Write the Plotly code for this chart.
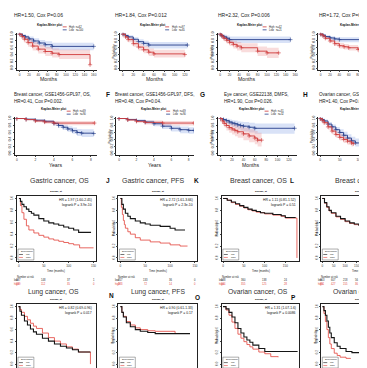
import plotly.graph_objects as go

W, H = 367, 368
def fx(x): return x / W
def fy(y): return 1 - y / H

RED = "#cf3a3a"; BLUE = "#27408b"; KRED = "#e2413a"; BLACK = "#151515"
RED_BAND = "rgba(235,130,130,0.28)"; BLUE_BAND = "rgba(120,150,225,0.28)"
FONT = "Liberation Sans, Arial, sans-serif"

# ---------------- data ----------------
# Row 1 (months): time, survival, upper / lower confidence band
A_LOW_T = [0, 6, 12, 20, 30, 42, 55, 70, 160]
A_LOW_S = [1, 0.96, 0.92, 0.86, 0.80, 0.74, 0.69, 0.64, 0.64]
A_LOW_UP = [1, 0.99, 0.97, 0.93, 0.88, 0.83, 0.79, 0.75, 0.75]
A_LOW_DN = [1, 0.92, 0.86, 0.78, 0.71, 0.64, 0.58, 0.53, 0.53]
A_HIGH_T = [0, 5, 10, 18, 28, 40, 55, 70, 85, 152]
A_HIGH_S = [1, 0.93, 0.85, 0.75, 0.65, 0.56, 0.49, 0.44, 0.40, 0.10]
A_HIGH_UP = [1, 0.99, 0.94, 0.86, 0.77, 0.69, 0.62, 0.58, 0.55, 0.45]
A_HIGH_DN = [1, 0.86, 0.75, 0.63, 0.52, 0.43, 0.36, 0.31, 0.27, 0.02]
B_LOW_T = [0, 5, 10, 20, 30, 40, 50, 125]
B_LOW_S = [1, 0.96, 0.92, 0.85, 0.78, 0.73, 0.68, 0.68]
B_LOW_UP = [1, 0.99, 0.97, 0.91, 0.85, 0.81, 0.77, 0.77]
B_LOW_DN = [1, 0.92, 0.86, 0.78, 0.70, 0.64, 0.58, 0.58]
B_HIGH_T = [0, 5, 10, 20, 30, 40, 50, 60, 120]
B_HIGH_S = [1, 0.92, 0.84, 0.72, 0.62, 0.54, 0.47, 0.42, 0.40]
B_HIGH_UP = [1, 0.97, 0.91, 0.81, 0.72, 0.65, 0.58, 0.54, 0.52]
B_HIGH_DN = [1, 0.86, 0.76, 0.63, 0.52, 0.44, 0.36, 0.31, 0.29]
C_LOW_T = [0, 3, 8, 14, 20, 150]
C_LOW_S = [1, 0.96, 0.92, 0.88, 0.84, 0.84]
C_LOW_UP = [1, 0.99, 0.98, 0.96, 0.93, 0.93]
C_LOW_DN = [1, 0.90, 0.84, 0.79, 0.74, 0.74]
C_HIGH_T = [0, 4, 8, 14, 20, 28, 36, 45, 80, 100, 125]
C_HIGH_S = [1, 0.94, 0.88, 0.82, 0.76, 0.70, 0.65, 0.60, 0.50, 0.45, 0.45]
C_HIGH_UP = [1, 0.99, 0.96, 0.91, 0.86, 0.81, 0.77, 0.73, 0.64, 0.60, 0.60]
C_HIGH_DN = [1, 0.88, 0.79, 0.72, 0.65, 0.58, 0.52, 0.47, 0.36, 0.30, 0.30]
D_LOW_T = [0, 5, 10, 20, 30, 40, 114]
D_LOW_S = [1, 0.97, 0.93, 0.89, 0.86, 0.84, 0.84]
D_LOW_UP = [1, 0.99, 0.97, 0.94, 0.92, 0.91, 0.91]
D_LOW_DN = [1, 0.94, 0.88, 0.83, 0.79, 0.76, 0.76]
D_HIGH_T = [0, 5, 10, 20, 30, 40, 50, 60, 80, 100, 114]
D_HIGH_S = [1, 0.95, 0.88, 0.80, 0.72, 0.66, 0.63, 0.60, 0.55, 0.52, 0.50]
D_HIGH_UP = [1, 0.98, 0.93, 0.86, 0.79, 0.74, 0.71, 0.68, 0.64, 0.62, 0.60]
D_HIGH_DN = [1, 0.92, 0.83, 0.74, 0.65, 0.58, 0.55, 0.52, 0.46, 0.42, 0.40]
# Row 2
E_HIGH_T = [0, 1, 2, 3, 4, 8.4]
E_HIGH_S = [1, 0.97, 0.93, 0.90, 0.87, 0.87]
E_HIGH_UP = [1, 0.99, 0.97, 0.95, 0.93, 0.93]
E_HIGH_DN = [1, 0.94, 0.89, 0.85, 0.81, 0.81]
E_LOW_T = [0, 1, 2, 3, 4, 4.5, 5, 5.5, 6, 6.5, 7, 8.3]
E_LOW_S = [1, 0.98, 0.95, 0.92, 0.86, 0.80, 0.75, 0.70, 0.65, 0.60, 0.58, 0.57]
E_LOW_UP = [1, 1, 0.98, 0.96, 0.91, 0.86, 0.82, 0.78, 0.74, 0.70, 0.69, 0.68]
E_LOW_DN = [1, 0.95, 0.91, 0.87, 0.80, 0.73, 0.67, 0.62, 0.56, 0.50, 0.47, 0.46]
F_HIGH_T = [0, 1, 2, 3, 5, 8.6]
F_HIGH_S = [1, 0.96, 0.92, 0.89, 0.87, 0.87]
F_HIGH_UP = [1, 0.99, 0.96, 0.94, 0.93, 0.93]
F_HIGH_DN = [1, 0.93, 0.87, 0.83, 0.80, 0.80]
F_LOW_T = [0, 1, 2, 3, 4, 5, 6, 7, 8, 8.6]
F_LOW_S = [1, 0.97, 0.94, 0.90, 0.85, 0.78, 0.72, 0.68, 0.66, 0.66]
F_LOW_UP = [1, 0.99, 0.98, 0.95, 0.91, 0.85, 0.80, 0.77, 0.75, 0.75]
F_LOW_DN = [1, 0.94, 0.90, 0.84, 0.78, 0.70, 0.63, 0.58, 0.56, 0.56]
G_LOW_T = [0, 5, 10, 15, 20, 25, 30, 35, 40, 50, 60, 130]
G_LOW_S = [1, 0.97, 0.94, 0.90, 0.87, 0.85, 0.82, 0.80, 0.78, 0.75, 0.72, 0.72]
G_LOW_UP = [1, 1, 0.99, 0.97, 0.95, 0.94, 0.92, 0.91, 0.90, 0.88, 0.86, 0.86]
G_LOW_DN = [1, 0.91, 0.86, 0.80, 0.76, 0.73, 0.69, 0.66, 0.63, 0.60, 0.56, 0.56]
G_HIGH_T = [0, 3, 6, 10, 15, 20, 25, 30, 40, 50, 60, 65, 72]
G_HIGH_S = [1, 0.93, 0.86, 0.80, 0.74, 0.70, 0.66, 0.62, 0.56, 0.50, 0.44, 0.38, 0.38]
G_HIGH_UP = [1, 0.99, 0.96, 0.92, 0.88, 0.85, 0.82, 0.79, 0.74, 0.69, 0.64, 0.59, 0.59]
G_HIGH_DN = [1, 0.85, 0.75, 0.66, 0.59, 0.54, 0.49, 0.45, 0.38, 0.32, 0.26, 0.20, 0.20]
H_LOW_T = [0, 5, 10, 20, 30, 40, 50, 60, 70, 80, 90, 138]
H_LOW_S = [1, 0.97, 0.93, 0.84, 0.76, 0.68, 0.60, 0.52, 0.44, 0.36, 0.30, 0.30]
H_LOW_UP = [1, 0.99, 0.97, 0.90, 0.83, 0.76, 0.69, 0.62, 0.55, 0.48, 0.43, 0.43]
H_LOW_DN = [1, 0.94, 0.88, 0.77, 0.68, 0.59, 0.51, 0.42, 0.34, 0.26, 0.20, 0.20]
H_HIGH_T = [0, 5, 10, 20, 30, 40, 50, 60, 70, 80, 85]
H_HIGH_S = [1, 0.95, 0.88, 0.76, 0.64, 0.54, 0.46, 0.40, 0.35, 0.30, 0.28]
H_HIGH_UP = [1, 0.98, 0.93, 0.83, 0.72, 0.63, 0.56, 0.50, 0.45, 0.41, 0.39]
H_HIGH_DN = [1, 0.91, 0.82, 0.68, 0.55, 0.45, 0.37, 0.30, 0.25, 0.20, 0.18]
# Row 3
I_LOW_T = [0, 3, 6, 10, 15, 20, 25, 30, 40, 50, 60, 70, 80, 90, 100, 110, 120, 145]
I_LOW_S = [1, 0.95, 0.90, 0.86, 0.82, 0.78, 0.75, 0.72, 0.66, 0.62, 0.59, 0.57, 0.55, 0.52, 0.50, 0.47, 0.43, 0.43]
I_HIGH_T = [0, 3, 6, 10, 15, 20, 30, 40, 50, 60, 70, 80, 90, 100, 110, 122, 150]
I_HIGH_S = [1, 0.88, 0.76, 0.65, 0.54, 0.47, 0.42, 0.38, 0.35, 0.32, 0.30, 0.28, 0.26, 0.24, 0.22, 0.17, 0.17]
J_LOW_T = [0, 3, 6, 10, 15, 20, 30, 40, 50, 60, 80, 100, 110, 130]
J_LOW_S = [1, 0.90, 0.82, 0.75, 0.70, 0.66, 0.62, 0.59, 0.57, 0.55, 0.53, 0.50, 0.47, 0.47]
J_HIGH_T = [0, 2, 4, 6, 8, 10, 15, 20, 30, 40, 60, 80, 100, 120, 135]
J_HIGH_S = [1, 0.85, 0.73, 0.63, 0.56, 0.50, 0.44, 0.40, 0.34, 0.30, 0.27, 0.25, 0.22, 0.20, 0.20]
K_LOW_T = [0, 10, 20, 30, 40, 50, 60, 70, 80, 90, 100, 120, 140, 150, 175]
K_LOW_S = [1, 0.97, 0.94, 0.91, 0.88, 0.85, 0.82, 0.80, 0.78, 0.76, 0.75, 0.73, 0.71, 0.68, 0.68]
K_HIGH_T = [0, 10, 20, 30, 40, 50, 60, 70, 80, 90, 100, 120, 140, 150, 178]
K_HIGH_S = [1, 0.97, 0.93, 0.90, 0.87, 0.84, 0.81, 0.79, 0.77, 0.76, 0.74, 0.72, 0.70, 0.67, 0.0]
L_LOW_T = [0, 10, 20, 30, 40, 60, 80, 100, 120, 140, 160, 180, 226]
L_LOW_S = [1, 0.93, 0.86, 0.80, 0.76, 0.70, 0.66, 0.62, 0.59, 0.57, 0.55, 0.54, 0.53]
L_HIGH_T = [0, 10, 20, 30, 40, 60, 80, 100, 120, 140, 160, 180, 226]
L_HIGH_S = [1, 0.92, 0.85, 0.79, 0.75, 0.69, 0.65, 0.61, 0.58, 0.56, 0.55, 0.53, 0.52]
# Row 4
M_LOW_T = [0, 5, 10, 20, 30, 40, 50, 60, 80, 100, 120, 140, 160, 180, 200, 240]
M_LOW_S = [1, 0.92, 0.85, 0.75, 0.68, 0.61, 0.56, 0.52, 0.45, 0.40, 0.35, 0.31, 0.28, 0.25, 0.21, 0.21]
M_HIGH_T = [0, 5, 10, 20, 30, 40, 50, 60, 80, 100, 120, 140, 160, 180, 200, 240]
M_HIGH_S = [1, 0.95, 0.90, 0.83, 0.77, 0.71, 0.66, 0.62, 0.54, 0.46, 0.40, 0.35, 0.30, 0.26, 0.21, 0.0]
N_LOW_T = [0, 3, 6, 12, 20, 30, 40, 55, 70, 140]
N_LOW_S = [1, 0.90, 0.82, 0.72, 0.65, 0.60, 0.57, 0.55, 0.53, 0.53]
N_HIGH_T = [0, 3, 6, 12, 20, 30, 40, 55, 70, 100, 110]
N_HIGH_S = [1, 0.90, 0.83, 0.74, 0.68, 0.63, 0.60, 0.58, 0.57, 0.57, 0.53]
O_LOW_T = [0, 10, 20, 30, 40, 50, 60, 70, 80, 90, 100, 120, 140, 250]
O_LOW_S = [1, 0.96, 0.90, 0.82, 0.72, 0.62, 0.54, 0.47, 0.42, 0.38, 0.33, 0.27, 0.22, 0.22]
O_HIGH_T = [0, 10, 20, 30, 40, 50, 60, 70, 80, 90, 100, 120, 140, 160, 185]
O_HIGH_S = [1, 0.94, 0.85, 0.73, 0.62, 0.52, 0.45, 0.39, 0.34, 0.30, 0.26, 0.21, 0.18, 0.13, 0.12]
P_LOW_T = [0, 5, 10, 15, 20, 25, 30, 40, 50, 60, 80, 100, 150, 180]
P_LOW_S = [1, 0.93, 0.85, 0.75, 0.64, 0.54, 0.46, 0.37, 0.31, 0.27, 0.22, 0.20, 0.18, 0.18]
P_HIGH_T = [0, 5, 10, 15, 20, 25, 30, 40, 50, 60, 80, 95]
P_HIGH_S = [1, 0.88, 0.74, 0.60, 0.46, 0.35, 0.27, 0.19, 0.15, 0.12, 0.10, 0.09]

# text
TOP_TITLES = ["HR=1.50, Cox P=0.06", "HR=1.84, Cox P=0.012", "HR=2.32, Cox P=0.006", "HR=1.72, Cox P=0.003"]
ROW2_L1 = ["Breast cancer, GSE1456-GPL97, OS,", "Breast cancer, GSE1456-GPL97, DFS,", "Eye cancer, GSE22138, DMFS,", "Ovarian cancer, GSE26712, OS,"]
ROW2_L2 = ["HR=0.41, Cox P=0.002.", "HR=0.48, Cox P=0.04.", "HR=1.90, Cox P=0.026.", "HR=1.40, Cox P=0.030."]
ROW12_N = [("62", "100"), ("97", "65"), ("42", "21"), ("148", "80"), ("69", "90"), ("69", "90"), ("31", "32"), ("96", "89")]
ROW3_HEAD = ["Gastric cancer, OS", "Gastric cancer, PFS", "Breast cancer, OS", "Breast cancer, RFS"]
ROW4_HEAD = ["Lung cancer, OS", "Lung cancer, PFS", "Ovarian cancer, OS", "Ovarian cancer, PFS"]
HR3 = [("HR = 1.97 (1.60-2.45)", "logrank P = 3.9e-10"), ("HR = 2.72 (1.61-3.66)", "logrank P = 2.3e-10"),
       ("HR = 1.11 (0.81-1.52)", "logrank P = 0.51"), ("HR = 1.11 (0.93-1.32)", "logrank P = 0.24")]
HR4 = [("HR = 0.82 (0.69-0.96)", "logrank P = 0.017"), ("HR = 0.90 (0.61-1.33)", "logrank P = 0.17"),
       ("HR = 1.31 (1.07-1.6)", "logrank P = 0.0086"), ("HR = 1.30 (1.05-1.6)", "logrank P = 0.016")]
RISK_LOW = [["337", "148", "37", "1"], ["357", "133", "36", "0"], ["538", "360", "138", "24"], ["953", "607", "218", "56", "6"]]
RISK_HIGH = [["539", "112", "35", "0"], ["283", "72", "14", "0"], ["544", "355", "125", "28"], ["811", "427", "155", "36", "5"]]
PROBE = "209080_at"

fig = go.Figure()
lay = {}
ann = []
shapes = []

def sfx(i):
    return "" if i == 1 else str(i)

def add_axes(i, xd, yd, xr, yr, xtv, boxed, fs):
    s = sfx(i)
    common = dict(showgrid=False, zeroline=False, showline=True, linecolor="#222", linewidth=0.6,
                  ticks="outside", ticklen=1.5, tickwidth=0.5, mirror=boxed,
                  tickfont=dict(size=fs, family=FONT, color="#333"), fixedrange=True)
    lay["xaxis" + s] = dict(domain=[fx(xd[0]), fx(xd[1])], range=xr, tickvals=xtv,
                            anchor="y" + s, ticklabelstandoff=0, **common)
    ytv = [0, 0.2, 0.4, 0.6, 0.8, 1.0]
    lay["yaxis" + s] = dict(domain=[fy(yd[1]), fy(yd[0])], range=yr, tickvals=ytv,
                            ticktext=[f"{v:.1f}" for v in ytv], tickangle=-90,
                            anchor="x" + s, **common)

def add_band(i, t, up, dn, fill):
    s = sfx(i)
    fig.add_trace(go.Scatter(x=t, y=dn, mode="lines", line=dict(shape="hv", width=0), xaxis="x" + s,
                             yaxis="y" + s, showlegend=False, hoverinfo="skip"))
    fig.add_trace(go.Scatter(x=t, y=up, mode="lines", line=dict(shape="hv", width=0), fill="tonexty",
                             fillcolor=fill, xaxis="x" + s, yaxis="y" + s, showlegend=False, hoverinfo="skip"))

def add_curve(i, t, s_, color, width, marks=False):
    s = sfx(i)
    fig.add_trace(go.Scatter(x=t, y=s_, mode="lines+markers" if marks else "lines",
                             line=dict(shape="hv", color=color, width=width),
                             marker=dict(symbol="cross-thin", size=3, line=dict(width=0.6, color=color)),
                             xaxis="x" + s, yaxis="y" + s, showlegend=False, hoverinfo="skip"))

def text(x, y, t, size, color="#222", anchor="left", bold=False, angle=0):
    ann.append(dict(x=fx(x), y=fy(y), xref="paper", yref="paper", text=("<b>%s</b>" % t) if bold else t,
                    showarrow=False, xanchor=anchor, yanchor="middle", textangle=angle,
                    font=dict(size=size, family=FONT, color=color)))

# ---------------- rows 1 & 2 ----------------
row12 = [
    (1, (8, 88), (23, 60), [-6, 166], [0, 20, 40, 60, 80, 100, 120, 140, 160],
     (A_LOW_T, A_LOW_S, A_LOW_UP, A_LOW_DN), (A_HIGH_T, A_HIGH_S, A_HIGH_UP, A_HIGH_DN), "Months", 40, "center", 41),
    (2, (112, 182), (23, 60), [-5, 130], [0, 20, 40, 60, 80, 100, 120],
     (B_LOW_T, B_LOW_S, B_LOW_UP, B_LOW_DN), (B_HIGH_T, B_HIGH_S, B_HIGH_UP, B_HIGH_DN), "Months", 146, "center", 144),
    (3, (210, 290), (23, 60), [-5, 165], [0, 20, 40, 60, 80, 100, 120, 140, 160],
     (C_LOW_T, C_LOW_S, C_LOW_UP, C_LOW_DN), (C_HIGH_T, C_HIGH_S, C_HIGH_UP, C_HIGH_DN), "Months", 239, "center", 242),
    (4, (311, 367), (23, 60), [-5, 114], [0, 20, 40, 60, 80, 100],
     (D_LOW_T, D_LOW_S, D_LOW_UP, D_LOW_DN), (D_HIGH_T, D_HIGH_S, D_HIGH_UP, D_HIGH_DN), "Months", 354, "left", 345),
    (5, (6, 88), (108, 146), [-0.2, 8.6], [0, 2, 4, 6, 8],
     (E_LOW_T, E_LOW_S, E_LOW_UP, E_LOW_DN), (E_HIGH_T, E_HIGH_S, E_HIGH_UP, E_HIGH_DN), "Years", 47, "center", 45),
    (6, (108, 186), (108, 146), [-0.3, 8.6], [0, 2, 4, 6, 8],
     (F_LOW_T, F_LOW_S, F_LOW_UP, F_LOW_DN), (F_HIGH_T, F_HIGH_S, F_HIGH_UP, F_HIGH_DN), "Years", 146, "center", 145),
    (7, (210, 290), (108, 146), [-5, 135], [0, 20, 40, 60, 80, 100, 120],
     (G_LOW_T, G_LOW_S, G_LOW_UP, G_LOW_DN), (G_HIGH_T, G_HIGH_S, G_HIGH_UP, G_HIGH_DN), "Months", 243, "center", 244),
    (8, (311, 367), (108, 146), [-5, 138], [0, 50, 100],
     (H_LOW_T, H_LOW_S, H_LOW_UP, H_LOW_DN), (H_HIGH_T, H_HIGH_S, H_HIGH_UP, H_HIGH_DN), "Months", 353, "left", 345),
]
for k, (i, xd, yd, xr, xt, low, high, xl, xlx, xla, kmx) in enumerate(row12):
    add_axes(i, xd, yd, xr, [-0.04, 1.04], xt, False, 3.2)
    add_band(i, low[0], low[2], low[3], BLUE_BAND)
    add_band(i, high[0], high[2], high[3], RED_BAND)
    add_curve(i, low[0], low[1], BLUE, 0.9, True)
    add_curve(i, high[0], high[1], RED, 0.9, True)
    text(xlx, yd[1] + 10, xl, 5.2, anchor=xla)
    text(kmx, yd[0] - 8, "Kaplan-Meier plot", 3.0, color="#111", anchor="center", bold=True)
    lx = kmx + 13
    ly = yd[0] - 6
    shapes.append(dict(type="line", xref="paper", yref="paper", x0=fx(lx), x1=fx(lx + 4), y0=fy(ly), y1=fy(ly),
                       line=dict(color=RED, width=0.8)))
    shapes.append(dict(type="line", xref="paper", yref="paper", x0=fx(lx), x1=fx(lx + 4), y0=fy(ly + 3), y1=fy(ly + 3),
                       line=dict(color=BLUE, width=0.8)))
    text(lx + 4.5, ly - 0.3, "High  n=" + ROW12_N[k][0], 2.6)
    text(lx + 4.5, ly + 2.7, "Low   n=" + ROW12_N[k][1], 2.6)
    if xd[0] > 50:
        text(xd[0] - 6, (yd[0] + yd[1]) / 2, "Probability", 3.0, anchor="center", angle=-90)

for k, t in enumerate(TOP_TITLES):
    text([3, 105, 208, 310][k], 5, t, 5.0)
for k in range(4):
    x = [3, 105, 214, 310][k]
    text(x, 85, ROW2_L1[k], 4.6)
    text(x, 92, ROW2_L2[k], 4.6)
for L, x in zip(["F", "G", "H"], [100, 195, 298]):
    text(x, 85, L, 6.5, color="#111", anchor="center", bold=True)

# ---------------- rows 3 & 4 ----------------
row34 = [
    (9, (8, 87), (188, 253), [-4, 154], [-0.05, 1.033], [0, 50, 100, 150], (I_LOW_T, I_LOW_S), (I_HIGH_T, I_HIGH_S)),
    (10, (110, 189), (188, 253), [-4, 154], [-0.05, 1.033], [0, 50, 100, 150], (J_LOW_T, J_LOW_S), (J_HIGH_T, J_HIGH_S)),
    (11, (214, 292), (188, 253), [-3, 184], [-0.05, 1.033], [0, 50, 100, 150], (K_LOW_T, K_LOW_S), (K_HIGH_T, K_HIGH_S)),
    (12, (314, 367), (188, 253), [-4, 226], [-0.05, 1.033], [0, 50, 100, 150, 200], (L_LOW_T, L_LOW_S), (L_HIGH_T, L_HIGH_S)),
    (13, (8, 87), (296, 362), [-5, 257], [-0.086, 1.052], [0, 50, 100, 150, 200, 250], (M_LOW_T, M_LOW_S), (M_HIGH_T, M_HIGH_S)),
    (14, (110, 189), (296, 362), [-4, 154], [-0.086, 1.052], [0, 50, 100, 150], (N_LOW_T, N_LOW_S), (N_HIGH_T, N_HIGH_S)),
    (15, (214, 292), (296, 362), [-4, 256], [-0.086, 1.052], [0, 50, 100, 150, 200, 250], (O_LOW_T, O_LOW_S), (O_HIGH_T, O_HIGH_S)),
    (16, (314, 367), (296, 362), [-4, 175], [-0.086, 1.052], [0, 50, 100, 150], (P_LOW_T, P_LOW_S), (P_HIGH_T, P_HIGH_S)),
]
for k, (i, xd, yd, xr, yr, xt, low, high) in enumerate(row34):
    add_axes(i, xd, yd, xr, yr, xt, True, 3.0)
    add_curve(i, high[0], high[1], KRED, 0.8)
    add_curve(i, low[0], low[1], BLACK, 1.1)
    col = k % 4
    cx = (xd[0] + xd[0] + 79) / 2
    text(cx, yd[0] - (5.5 if k < 4 else 4.3), PROBE, 2.5, anchor="center", bold=True)
    hr = (HR3 if k < 4 else HR4)[col]
    text(xd[0] + 77, yd[0] + 4, hr[0], 3.4, color="#111", anchor="right")
    text(xd[0] + 77, yd[0] + 9, hr[1], 3.4, color="#111", anchor="right")
    if xd[0] > 50:
        text(xd[0] - 5, (yd[0] + yd[1]) / 2, "Probability", 3.0, anchor="center", angle=-90)
    by = yd[1]
    shapes.append(dict(type="rect", xref="paper", yref="paper", x0=fx(xd[0] + 1), x1=fx(xd[0] + 17),
                       y0=fy(by - 1), y1=fy(by - 12), line=dict(color="#333", width=0.4)))
    text(xd[0] + 2, by - 10, "Expression", 2.4)
    shapes.append(dict(type="line", xref="paper", yref="paper", x0=fx(xd[0] + 2), x1=fx(xd[0] + 6),
                       y0=fy(by - 6.5), y1=fy(by - 6.5), line=dict(color=BLACK, width=0.6)))
    shapes.append(dict(type="line", xref="paper", yref="paper", x0=fx(xd[0] + 2), x1=fx(xd[0] + 6),
                       y0=fy(by - 3.5), y1=fy(by - 3.5), line=dict(color=KRED, width=0.6)))
    text(xd[0] + 7, by - 6.5, "low", 2.4)
    text(xd[0] + 7, by - 3.5, "high", 2.4)
    if k < 4:
        text(cx, 263.5, "Time (months)", 2.8, anchor="center")
        text(xd[0] + 9, 269, "Number at risk", 2.6, anchor="center")
        text(xd[0] - 5, 272.5, "low", 2.6)
        text(xd[0] - 5, 276, "high", 2.6, color=KRED)
        s = sfx(i)
        for j, tv in enumerate(xt):
            for rr, yy, c in ((RISK_LOW[col], 272.5, "#222"), (RISK_HIGH[col], 276, KRED)):
                ann.append(dict(x=tv, y=fy(yy), xref="x" + s, yref="paper", text=rr[j], showarrow=False,
                                xanchor="center", yanchor="middle", font=dict(size=2.6, family=FONT, color=c)))

for t, x in zip(ROW3_HEAD, [51, 145, 251, 326]):
    text(x, 172, t, 7.0, color="#333", anchor="left" if x == 326 else "center")
for t, x in zip(ROW4_HEAD, [45, 150, 250, 324]):
    text(x, 284, t, 6.8, color="#333", anchor="left" if x == 324 else "center")
for L, x, y in [("J", 100, 172), ("K", 189, 172), ("L", 285, 172), ("N", 103, 288), ("O", 190, 290), ("P", 286, 290)]:
    text(x, y, L, 6.5, color="#111", anchor="center", bold=True)

fig.update_layout(width=W, height=H, margin=dict(l=0, r=0, t=0, b=0), paper_bgcolor="white",
                  plot_bgcolor="white", showlegend=False, annotations=ann, shapes=shapes, **lay)
fig.write_html("out.html", config={"displayModeBar": False})
